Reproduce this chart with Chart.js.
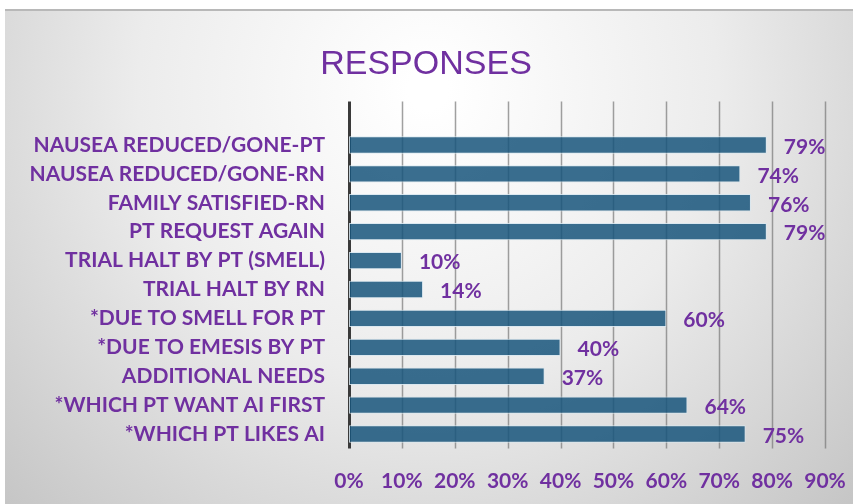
<!DOCTYPE html>
<html>
<head>
<meta charset="utf-8">
<script src="https://cdn.jsdelivr.net/npm/chart.js@4/dist/chart.umd.min.js"></script>
<style>
    html, body { margin: 0; padding: 0; background: #ffffff; }
</style>
</head>
<body>
<canvas id="responsesChart" width="856" height="504"></canvas>
<script>
const categories = [
    "NAUSEA REDUCED/GONE-PT",
    "NAUSEA REDUCED/GONE-RN",
    "FAMILY SATISFIED-RN",
    "PT REQUEST AGAIN",
    "TRIAL HALT BY PT (SMELL)",
    "TRIAL HALT BY RN",
    "*DUE TO SMELL FOR PT",
    "*DUE TO EMESIS BY PT",
    "ADDITIONAL NEEDS",
    "*WHICH PT WANT AI FIRST",
    "*WHICH PT LIKES AI",
];
const responses = [79, 74, 76, 79, 10, 14, 60, 40, 37, 64, 75];
const percentTicks = [0, 10, 20, 30, 40, 50, 60, 70, 80, 90];
const chartTitle = "RESPONSES";

const purple = "#7030a0";
const labelFont = { family: "Lato", weight: "bold", size: 21 };

// grey radial backdrop like the office chart frame, title drawn on it
const backdrop = {
    id: "backdrop",
    beforeDraw(chart) {
        const c = chart.ctx;
        c.save();
        c.fillStyle = "#ffffff";
        c.fillRect(0, 0, chart.width, chart.height);
        const g = c.createRadialGradient(428, 90, 20, 428, 90, 620);
        g.addColorStop(0, "#ffffff");
        g.addColorStop(0.45, "#ececec");
        g.addColorStop(1, "#c2c2c2");
        c.fillStyle = g;
        c.fillRect(5, 9, chart.width - 8, chart.height - 9);
        c.strokeStyle = "#b8b8b8";
        c.lineWidth = 2;
        c.beginPath();
        c.moveTo(5, 10);
        c.lineTo(chart.width - 3, 10);
        c.stroke();

        c.fillStyle = purple;
        c.font = "34px 'Liberation Sans'";
        c.textAlign = "center";
        c.textBaseline = "middle";
        c.fillText(chartTitle, chart.width / 2 - 2, 65);
        c.restore();
    },
};

// vertical grid, running a bit above the first bar as in the original
const grid = {
    id: "grid",
    beforeDatasetsDraw(chart) {
        const c = chart.ctx;
        const x = chart.scales.x;
        const area = chart.chartArea;
        const top = area.top - 29;
        c.save();
        percentTicks.forEach(function (v) {
            const px = Math.round(x.getPixelForValue(v)) + 0.5;
            c.beginPath();
            if (v === 0) {
                c.strokeStyle = "#3a3a3a";
                c.lineWidth = 3;
            } else {
                c.strokeStyle = "rgba(120,120,120,0.7)";
                c.lineWidth = 1.5;
            }
            c.moveTo(px, top);
            c.lineTo(px, area.bottom);
            c.stroke();
        });
        c.restore();
    },
};

const valueLabels = {
    id: "valueLabels",
    afterDatasetsDraw(chart) {
        const c = chart.ctx;
        const meta = chart.getDatasetMeta(0);
        c.save();
        c.fillStyle = purple;
        c.font = "bold 21px Lato";
        c.textAlign = "left";
        c.textBaseline = "middle";
        meta.data.forEach(function (bar, i) {
            c.fillText(responses[i] + "%", bar.x + 17, bar.y + 2);
        });
        c.restore();
    },
};

new Chart(document.getElementById("responsesChart"), {
    type: "bar",
    data: {
        labels: categories,
        datasets: [
            {
                label: "Responses",
                data: responses,
                backgroundColor: "rgba(23,85,123,0.85)",
                borderColor: "rgba(215,230,240,0.85)",
                borderWidth: 1,
                borderSkipped: false,
                barPercentage: 0.6,
                categoryPercentage: 1,
            },
        ],
    },
    options: {
        indexAxis: "y",
        responsive: false,
        animation: false,
        layout: {
            padding: { left: 0, right: 31, top: 130.5, bottom: 0 },
        },
        plugins: {
            legend: { display: false },
            tooltip: { enabled: false },
            title: { display: false },
        },
        scales: {
            x: {
                min: 0,
                max: 90,
                grid: { display: false, drawTicks: false },
                border: { display: false },
                afterFit: function (scale) {
                    scale.height = 55.5;
                    scale.paddingLeft = 0;
                    scale.paddingRight = 0;
                },
                ticks: {
                    stepSize: 10,
                    padding: 20,
                    color: purple,
                    font: labelFont,
                    callback: function (v) {
                        return v + "%";
                    },
                },
            },
            y: {
                grid: { display: false, drawTicks: false },
                border: { display: false },
                afterFit: function (scale) {
                    scale.width = 349;
                },
                ticks: {
                    autoSkip: false,
                    padding: 24,
                    color: purple,
                    font: labelFont,
                },
            },
        },
    },
    plugins: [backdrop, grid, valueLabels],
});
</script>
</body>
</html>
